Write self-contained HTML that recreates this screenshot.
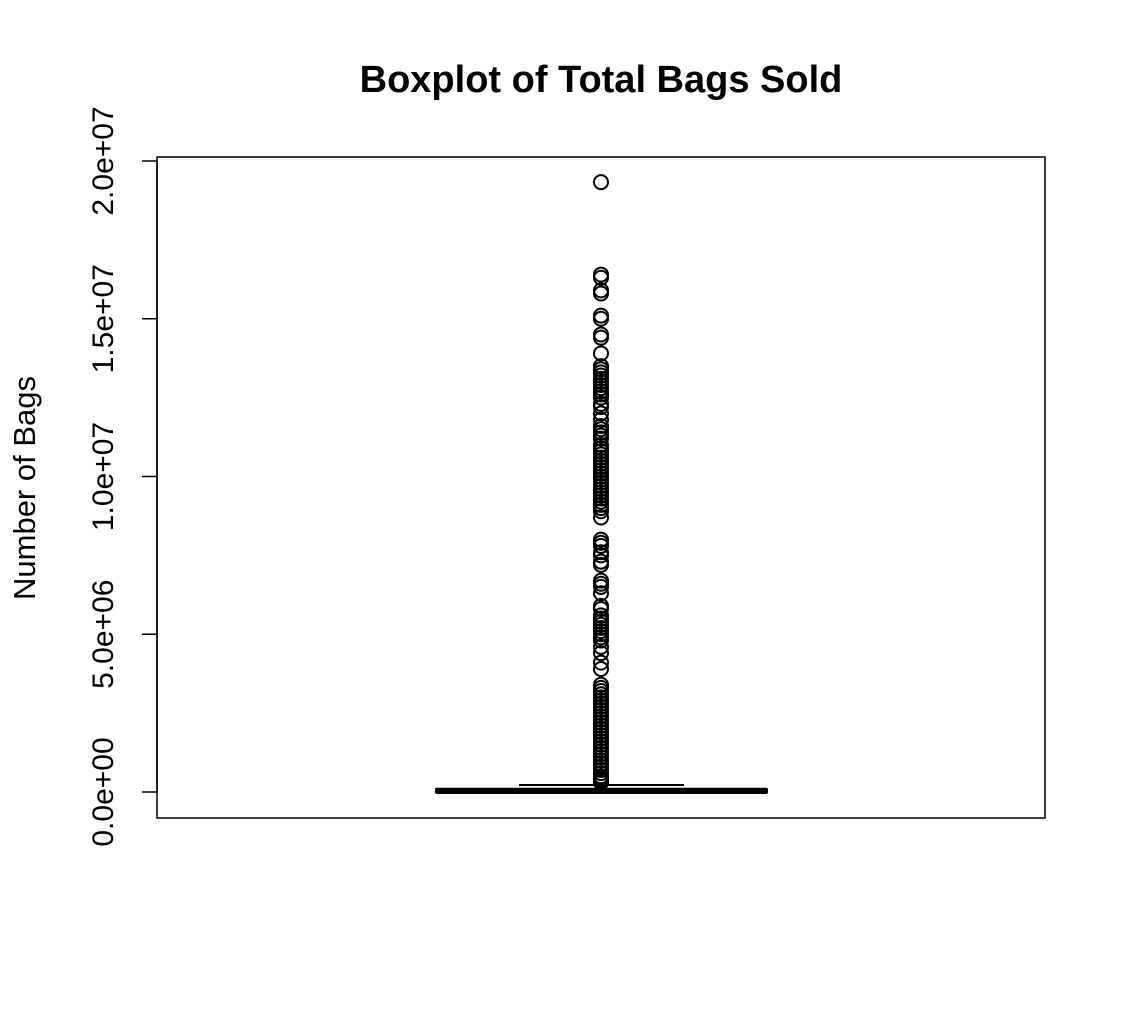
<!DOCTYPE html>
<html><head><meta charset="utf-8"><style>
body{margin:0;background:#fff}
svg{display:block;font-family:"Liberation Sans",Arial,sans-serif}
</style></head><body>
<svg id="chart" width="1126" height="1014">
<text x="601" y="92" text-anchor="middle" font-size="38" font-weight="bold">Boxplot of Total Bags Sold</text>
<rect x="157" y="157" width="888" height="661" fill="none" stroke="#000" stroke-width="1.5"/>
<text transform="translate(35,488) rotate(-90)" text-anchor="middle" font-size="31">Number of Bags</text>
<g id="axis"></g>
<g id="marks"></g>
</svg>
<script>
const tickValues=[0,5e6,1e7,1.5e7,2e7];
const tickLabels=["0.0e+00","5.0e+06","1.0e+07","1.5e+07","2.0e+07"];
const boxStats=[0,30000,70000,220000];
const outliers=[19.33,16.4,16.3,15.9,15.8,15.1,15.0,14.5,14.4,13.9,13.5,13.4,13.3,13.2,13.1,13.0,12.9,12.8,12.7,12.6,12.5,12.3,12.2,12.0,11.8,11.6,11.5,11.4,11.3,11.2,11.0,10.9,10.8,10.7,10.6,10.5,10.4,10.3,10.2,10.1,10.0,9.9,9.8,9.7,9.6,9.5,9.4,9.3,9.2,9.1,9.0,8.9,8.7,8.0,7.9,7.8,7.6,7.5,7.3,7.2,6.7,6.6,6.5,6.3,5.9,5.8,5.6,5.5,5.4,5.3,5.2,5.1,5.0,4.9,4.8,4.6,4.4,4.1,3.9,3.4,3.3,3.2,3.1,3.0,2.9,2.8,2.7,2.6,2.5,2.4,2.3,2.2,2.1,2.0,1.9,1.8,1.7,1.6,1.5,1.4,1.3,1.2,1.1,1.0,0.9,0.8,0.7,0.6,0.5,0.45,0.4,0.35,0.3];
const NS="http://www.w3.org/2000/svg";
const y=v=>792-v*(631/2e7);
const cx=601;
function mk(tag,attrs,parent){const e=document.createElementNS(NS,tag);for(const k in attrs)e.setAttribute(k,attrs[k]);parent.appendChild(e);return e;}
const ax=document.getElementById('axis');
let l=mk('line',{x1:157,x2:157,y1:y(tickValues[0]),y2:y(tickValues[tickValues.length-1]),stroke:'#000','stroke-width':1.5},ax);


tickValues.forEach((v,i)=>{
 const t=mk('line',{x1:142,x2:157,y1:y(v),y2:y(v),stroke:'#000','stroke-width':1.5},ax);
 
 
 const tx=mk('text',{transform:`translate(113,${y(v)}) rotate(-90)`,'text-anchor':'middle','font-size':30},ax);
 tx.textContent=tickLabels[i];
 
 
});
const g=document.getElementById('marks');
const cap=mk('line',{x1:519,x2:684,y1:y(boxStats[3]),y2:y(boxStats[3]),stroke:'#000','stroke-width':2},g);


const bx=mk('rect',{x:437,width:329,y:y(boxStats[2]),height:Math.max(2,y(boxStats[0])-y(boxStats[2])),fill:'#000',stroke:'#000','stroke-width':4,'stroke-linejoin':'round'},g);


const md=mk('line',{x1:437,x2:766,y1:y(boxStats[1]),y2:y(boxStats[1]),stroke:'#000','stroke-width':4},g);


outliers.forEach(v=>{
 const c=mk('circle',{cx:cx,cy:y(v*1e6),r:7,fill:'none',stroke:'#000','stroke-width':2},g);
 
 
});
</script>
</body></html>
